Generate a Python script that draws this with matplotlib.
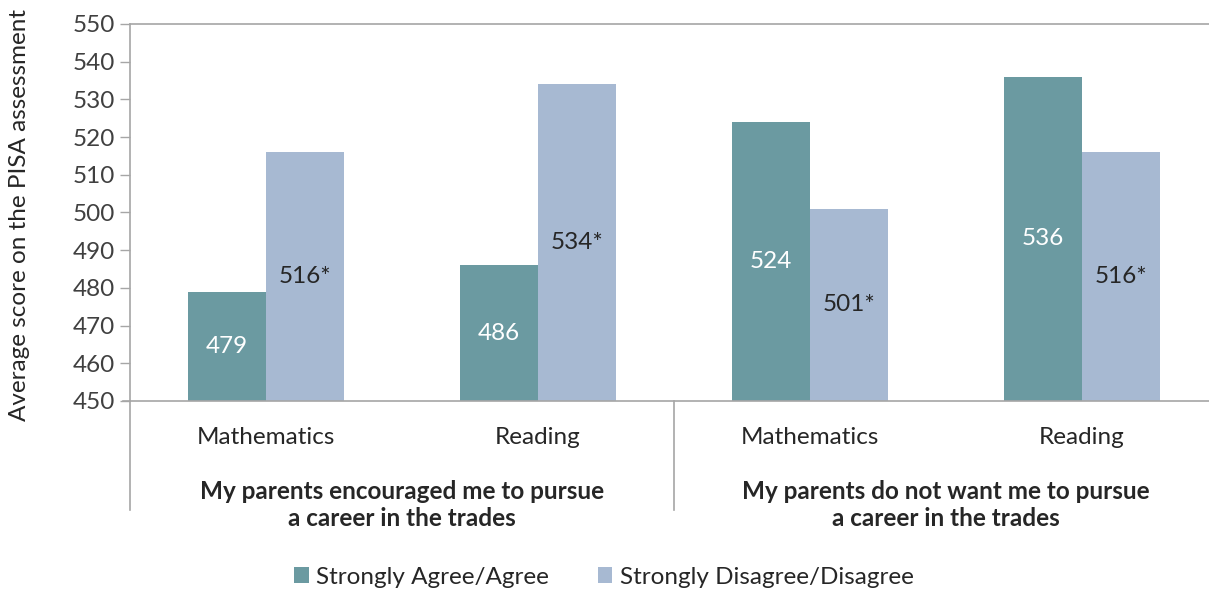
import matplotlib
matplotlib.use("Agg")
import matplotlib.pyplot as plt
from matplotlib.patches import Patch

plt.rcParams['font.family'] = ['Lato', 'DejaVu Sans']

subjects = ["Mathematics", "Reading", "Mathematics", "Reading"]
groups = ["My parents encouraged me to pursue\na career in the trades",
          "My parents do not want me to pursue\na career in the trades"]
agree = [479, 486, 524, 536]
disagree = [516, 534, 501, 516]
agree_labels = ["479", "486", "524", "536"]
disagree_labels = ["516*", "534*", "501*", "516*"]
series_names = ["Strongly Agree/Agree", "Strongly Disagree/Disagree"]
yticks = [450, 460, 470, 480, 490, 500, 510, 520, 530, 540, 550]

TEAL = "#6b9aa1"
LIGHT = "#a7b9d2"
GRID = "#a6a6a6"
TXT = "#262626"
FS = 17.5

W, H = 1209, 614
fig = plt.figure(figsize=(W / 100, H / 100), dpi=100)
ax_l, ax_r, ax_t, ax_b = 130, 1218, 24, 401
ax = fig.add_axes([ax_l / W, 1 - ax_b / H, (ax_r - ax_l) / W, (ax_b - ax_t) / H])

x = list(range(len(subjects)))
bw = 0.286
ax.bar([i - bw / 2 for i in x], [a - 450 for a in agree], bottom=450, width=bw,
       color=TEAL, linewidth=0)
ax.bar([i + bw / 2 for i in x], [d - 450 for d in disagree], bottom=450, width=bw,
       color=LIGHT, linewidth=0)

for i in x:
    ax.text(i - bw / 2, (450 + agree[i]) / 2, agree_labels[i], ha='center', va='center',
            color='white', fontsize=FS)
    ax.text(i + bw / 2, (450 + disagree[i]) / 2, disagree_labels[i], ha='center', va='center',
            color=TXT, fontsize=FS)

ax.set_xlim(-0.5, 3.5)
ax.set_ylim(450, 550)
ax.set_yticks(yticks)
ax.tick_params(axis='y', length=7, width=1, color=GRID, labelsize=FS, labelcolor="#404040", pad=4)
ax.set_xticks([])

for side in ['top', 'left', 'bottom']:
    ax.spines[side].set_color(GRID)
    ax.spines[side].set_linewidth(1.2)
ax.spines['right'].set_visible(False)

# category labels under each pair of bars
px = 1.0 / (ax_b - ax_t)
xt = ax.get_xaxis_transform()
for i, s in enumerate(subjects):
    ax.text(i, -(437 - ax_b) * px, s, transform=xt, ha='center', va='center',
            fontsize=FS, color=TXT)

# group labels and separators
for g, gname in enumerate(groups):
    ax.text(0.5 + 2 * g, -(505 - ax_b) * px, gname, transform=xt, ha='center', va='center',
            fontsize=FS, fontweight='bold', color=TXT, linespacing=1.2)
for xs in (-0.5, 1.5):
    ax.plot([xs, xs], [0, -(510 - ax_b) * px], transform=xt, color=GRID, lw=1.2,
            clip_on=False)
# extend the baseline to the left over the tick mark
ax.plot([-0.5 - 7 / 272, -0.5], [0, 0], transform=xt, color=GRID, lw=1.2, clip_on=False)

fig.text(20 / W, 1 - 215 / H, "Average score on the PISA assessment", rotation=90,
         ha='center', va='center', fontsize=FS, color=TXT)

handles = [Patch(facecolor=TEAL, edgecolor='none'), Patch(facecolor=LIGHT, edgecolor='none')]
fig.legend(handles, series_names, loc='center', bbox_to_anchor=(604 / W, 1 - 577 / H),
           ncol=2, frameon=False, fontsize=FS, handlelength=0.6, handleheight=0.6,
           handletextpad=0.3, columnspacing=2.0, labelcolor=TXT)

fig.savefig("out.png", dpi=100)
